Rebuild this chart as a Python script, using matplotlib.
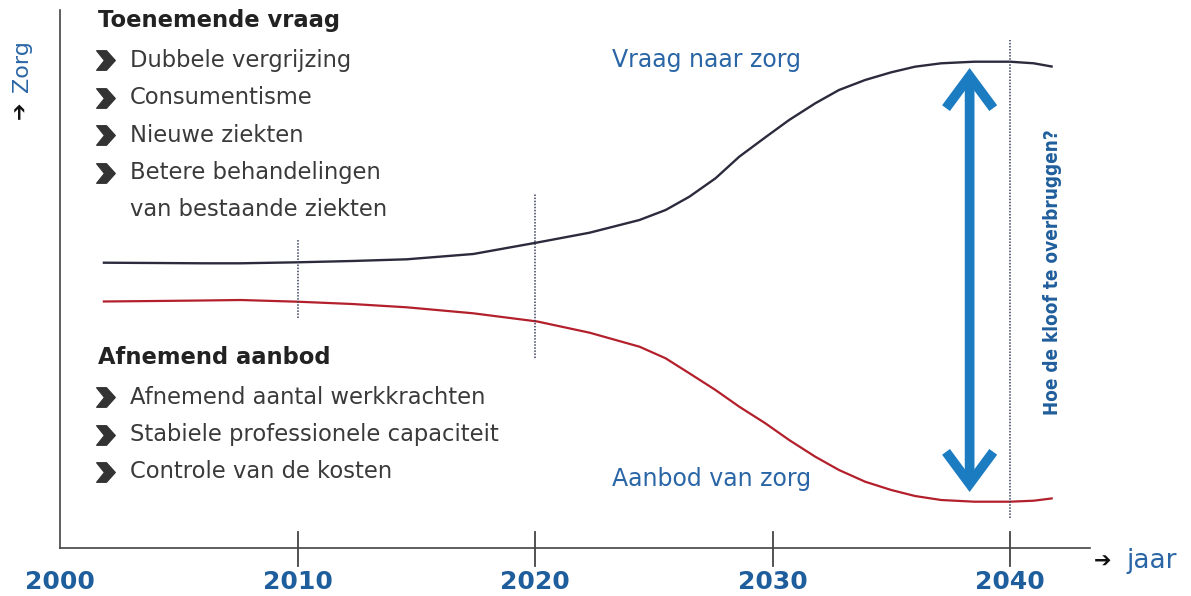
import matplotlib
matplotlib.use("Agg")
import matplotlib.pyplot as plt
from matplotlib.path import Path

# ---------------- data ----------------
years = [2001.8, 2004.0, 2006.0, 2007.6, 2010.0, 2012.3, 2014.6, 2017.4, 2020.1,
         2022.3, 2024.4, 2025.5, 2026.5, 2027.6, 2028.6, 2029.7, 2030.7, 2031.8,
         2032.8, 2033.9, 2035.0, 2036.0, 2037.1, 2038.5, 2040.0, 2041.0, 2041.8]
demand = [282.3, 282.0, 281.7, 281.7, 282.7, 284.0, 285.7, 291.0, 302.5,
          312.3, 325.0, 335.0, 348.3, 366.7, 388.3, 407.7, 425.0, 441.7,
          455.0, 465.0, 472.7, 478.3, 481.7, 483.3, 483.3, 481.7, 478.3]
supply = [243.5, 244.0, 244.5, 245.0, 243.3, 241.0, 237.7, 231.7, 223.5,
          212.3, 198.3, 186.7, 171.7, 155.0, 138.3, 121.7, 105.0, 88.3,
          75.0, 63.3, 55.0, 49.0, 45.0, 43.3, 43.3, 44.3, 46.7]

tick_years = [2000, 2010, 2020, 2030, 2040]
tick_labels = ["2000", "2010", "2020", "2030", "2040"]

# dotted marker lines: (year, bottom, top)
marker_years = [2010, 2020, 2040]
marker_bottom = [227, 187, 27]
marker_top = [305, 352, 505]

gap_year = 2038.3
gap_low = 53
gap_high = 477

demand_title = "Toenemende vraag"
demand_items = ["Dubbele vergrijzing", "Consumentisme", "Nieuwe ziekten",
                "Betere behandelingen"]
demand_extra = "van bestaande ziekten"
supply_title = "Afnemend aanbod"
supply_items = ["Afnemend aantal werkkrachten", "Stabiele professionele capaciteit",
                "Controle van de kosten"]

# ---------------- style ----------------
W, H = 1191, 596
BLUE = "#1f5e9c"
LBLUE = "#2a66a6"
TXT = "#3a3a3a"
fig = plt.figure(figsize=(W / 100, H / 100), dpi=100)
fig.patch.set_facecolor("white")

def fp(x, y):
    return x / W, 1 - y / H

ax_left, ax_right, ax_top, ax_bot = 60, 1090, 10, 548
ax = fig.add_axes([ax_left / W, 1 - ax_bot / H, (ax_right - ax_left) / W,
                   (ax_bot - ax_top) / H])
ax.set_xlim(2000, 2000 + (ax_right - ax_left) / 23.75)
ax.set_ylim(-3, 535)
for s in ["top", "right"]:
    ax.spines[s].set_visible(False)
for s in ["left", "bottom"]:
    ax.spines[s].set_color("#444444")
    ax.spines[s].set_linewidth(1.2)
ax.set_yticks([])
ax.set_xticks(tick_years)
ax.set_xticklabels([])
ax.tick_params(axis="x", length=0)
for yr, lab in zip(tick_years, tick_labels):
    ax.text(yr, -0.063, lab, transform=ax.get_xaxis_transform(), ha="center",
            va="center", fontsize=18, fontweight="bold", color=BLUE)

# tick marks crossing the axis line (figure-level so nothing clips them)
x2px = ax.transData
for yr in tick_years[1:]:
    xf = (ax_left + (yr - 2000) * 23.75) / W
    fig.lines.append(plt.Line2D([xf, xf], [1 - 532 / H, 1 - 566 / H],
                                transform=fig.transFigure, color="#444444",
                                lw=1.3))

# curves
ax.plot(years, demand, color="#2b2b3d", lw=1.7, solid_capstyle="butt",
        solid_joinstyle="round")
ax.plot(years, supply, color="#b3202b", lw=1.6, solid_capstyle="butt",
        solid_joinstyle="round")

# dotted lines
for yr, b, t in zip(marker_years, marker_bottom, marker_top):
    ax.vlines(yr, b, t, colors="#3b3f5c", lw=1.1, linestyles=(0, (1, 1)))

# double arrow
ax.annotate("", xy=(gap_year, gap_high), xytext=(gap_year, gap_low),
            arrowprops=dict(arrowstyle="<->,head_length=1.15,head_width=0.85",
                            lw=7, color="#1c7cc2", mutation_scale=20,
                            shrinkA=0, shrinkB=0, joinstyle="miter",
                            capstyle="butt"))

# chevron marker
chev = Path([(-0.9, 1), (0.1, 1), (1, 0), (0.1, -1), (-0.9, -1), (-0.1, 0), (-0.9, 1)],
            [Path.MOVETO] + [Path.LINETO] * 5 + [Path.CLOSEPOLY])

def bullet(y):
    fig.lines.append(plt.Line2D([105 / W], [1 - y / H], marker=chev, markersize=14,
                                color="#333333", transform=fig.transFigure))

FS = 16.3
# left text blocks
fig.text(*fp(98, 20), demand_title, fontsize=FS, fontweight="bold", color="#222222",
         va="center", ha="left")
for i, item in enumerate(demand_items):
    y = 60 + i * 37.5
    bullet(y)
    fig.text(*fp(130, y), item, fontsize=FS, color=TXT, va="center", ha="left")
fig.text(*fp(130, 210), demand_extra, fontsize=FS, color=TXT, va="center", ha="left")

fig.text(*fp(98, 358), supply_title, fontsize=FS, fontweight="bold", color="#222222",
         va="center", ha="left")
for i, item in enumerate(supply_items):
    y = 397 + i * 37.5
    bullet(y)
    fig.text(*fp(130, y), item, fontsize=FS, color=TXT, va="center", ha="left")

# series labels
fig.text(*fp(612, 60), "Vraag naar zorg", fontsize=17, color=LBLUE, va="center",
         ha="left")
fig.text(*fp(612, 479), "Aanbod van zorg", fontsize=17, color=LBLUE, va="center",
         ha="left")

# gap question
fig.text(*fp(1052, 272), "Hoe de kloof te overbruggen?", fontsize=13.6,
         fontweight="bold", fontstretch="condensed", color=BLUE, rotation=90,
         va="center", ha="center")

# axis names
fig.text(*fp(22, 66), "Zorg", fontsize=16, color=LBLUE, rotation=90,
         va="center", ha="center")
fig.text(*fp(21, 110), "\u2794", fontsize=15, color="#111111", rotation=90,
         va="center", ha="center", fontweight="bold")
fig.text(*fp(1103, 562), "\u2794", fontsize=15, color="#111111",
         va="center", ha="center", fontweight="bold")
fig.text(*fp(1126, 561), "jaar", fontsize=19, color=LBLUE, va="center", ha="left")

fig.savefig("out.png", dpi=100, facecolor="white")
